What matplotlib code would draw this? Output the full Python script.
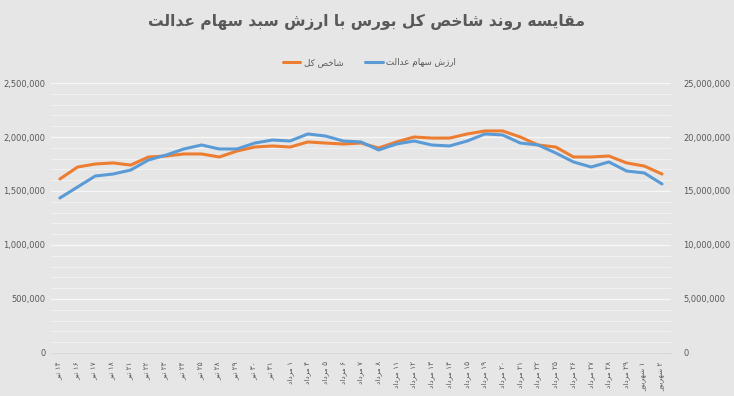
import re
import matplotlib.pyplot as plt
from matplotlib.ticker import FuncFormatter, MultipleLocator

# --- data ---
days = ['۱۴', '۱۶', '۱۷', '۱۸', '۲۱', '۲۲', '۲۳', '۲۴', '۲۵', '۲۸', '۲۹', '۳۰', '۳۱',
        '۱', '۴', '۵', '۶', '۷', '۸', '۱۱', '۱۲', '۱۳', '۱۴', '۱۵', '۱۹', '۲۰', '۲۱',
        '۲۲', '۲۵', '۲۶', '۲۷', '۲۸', '۲۹',
        '۱', '۲']
months = ['تیر'] * 13 + ['مرداد'] * 20 + ['شهریور'] * 2

shakhes = [1611000, 1722000, 1750000, 1760000, 1740000, 1815000, 1824000, 1843000,
           1843000, 1815000, 1870000, 1907000, 1917000, 1907000, 1954000, 1944000,
           1935000, 1944000, 1898000, 1954000, 2000000, 1990000, 1990000, 2028000,
           2056000, 2056000, 2000000, 1926000, 1907000, 1815000, 1815000, 1824000,
           1760000, 1731000, 1657000]

edalat = [14350000, 15370000, 16390000, 16570000, 16940000, 17870000, 18330000, 18890000,
          19260000, 18890000, 18890000, 19440000, 19720000, 19630000, 20280000, 20090000,
          19630000, 19540000, 18800000, 19350000, 19630000, 19260000, 19170000, 19630000,
          20280000, 20190000, 19440000, 19260000, 18520000, 17690000, 17220000, 17690000,
          16850000, 16670000, 15650000]

title = 'مقایسه روند شاخص کل بورس با ارزش سبد سهام عدالت'
name_shakhes = 'شاخص کل'
name_edalat = 'ارزش سهام عدالت'

# --- small arabic/persian shaper (matplotlib has no RTL shaping) ---
FORMS = {  # isolated, final, initial, medial
    'ا': ('\uFE8D', '\uFE8E', None, None),
    'ب': ('\uFE8F', '\uFE90', '\uFE91', '\uFE92'),
    'ت': ('\uFE95', '\uFE96', '\uFE97', '\uFE98'),
    'خ': ('\uFEA5', '\uFEA6', '\uFEA7', '\uFEA8'),
    'د': ('\uFEA9', '\uFEAA', None, None),
    'ر': ('\uFEAD', '\uFEAE', None, None),
    'ز': ('\uFEAF', '\uFEB0', None, None),
    'س': ('\uFEB1', '\uFEB2', '\uFEB3', '\uFEB4'),
    'ش': ('\uFEB5', '\uFEB6', '\uFEB7', '\uFEB8'),
    'ص': ('\uFEB9', '\uFEBA', '\uFEBB', '\uFEBC'),
    'ع': ('\uFEC9', '\uFECA', '\uFECB', '\uFECC'),
    'ق': ('\uFED5', '\uFED6', '\uFED7', '\uFED8'),
    'ل': ('\uFEDD', '\uFEDE', '\uFEDF', '\uFEE0'),
    'م': ('\uFEE1', '\uFEE2', '\uFEE3', '\uFEE4'),
    'ن': ('\uFEE5', '\uFEE6', '\uFEE7', '\uFEE8'),
    'ه': ('\uFEE9', '\uFEEA', '\uFEEB', '\uFEEC'),
    'و': ('\uFEED', '\uFEEE', None, None),
    'ک': ('\uFB8E', '\uFB8F', '\uFB90', '\uFB91'),
    'ی': ('\uFBFC', '\uFBFD', '\uFBFE', '\uFBFF'),
}


def shape(s):
    out = []
    for i, ch in enumerate(s):
        if ch not in FORMS:
            out.append(ch)
            continue
        prev = s[i - 1] if i > 0 else ''
        nxt = s[i + 1] if i + 1 < len(s) else ''
        jp = prev in FORMS and FORMS[prev][2] is not None
        jn = FORMS[ch][2] is not None and nxt in FORMS
        f = FORMS[ch]
        if jp and jn:
            out.append(f[3])
        elif jp:
            out.append(f[1])
        elif jn:
            out.append(f[2])
        else:
            out.append(f[0])
    return ''.join(out)


def rtl(s):
    v = shape(s)[::-1]
    return re.sub('[۰-۹0-9]+', lambda m: m.group(0)[::-1], v)


labels = [rtl(d + ' ' + m) for d, m in zip(days, months)]
x = list(range(len(days)))

bg = '#e7e6e6'
txt = '#595959'
plt.rcParams['font.family'] = ['DejaVu Sans']

fig = plt.figure(figsize=(7.34, 3.96), dpi=100, facecolor=bg)
ax = fig.add_axes([0.0695, 0.1086, 0.8445, 0.6818], facecolor=bg)
ax2 = ax.twinx()

l1, = ax.plot(x, shakhes, color='#ed7d31', lw=2.2, solid_capstyle='round')
l2, = ax2.plot(x, edalat, color='#5b9bd5', lw=2.2, solid_capstyle='round')

ax.set_xlim(-0.5, len(x) - 0.5)
ax.set_ylim(0, 2500000)
ax2.set_ylim(0, 25000000)
ax.yaxis.set_major_locator(MultipleLocator(500000))
ax.yaxis.set_minor_locator(MultipleLocator(100000))
ax2.yaxis.set_major_locator(MultipleLocator(5000000))
ax.yaxis.set_major_formatter(FuncFormatter(lambda v, p: f'{int(v):,}'))
ax2.yaxis.set_major_formatter(FuncFormatter(lambda v, p: f'{int(v):,}'))
ax.grid(True, axis='y', which='major', color='#f7f7f7', lw=0.9)
ax.grid(True, axis='y', which='minor', color='#f2f2f2', lw=0.7)
ax.set_axisbelow(True)

for a in (ax, ax2):
    for sp in a.spines.values():
        sp.set_visible(False)
    a.tick_params(axis='both', which='both', length=0, colors=txt, labelsize=6)
ax.tick_params(axis='y', pad=4)
ax2.tick_params(axis='y', pad=9)
ax.spines['bottom'].set_visible(True)
ax.spines['bottom'].set_color('#d9d9d9')

ax.set_xticks(x)
ax.set_xticklabels(labels, rotation=90, fontsize=5.3, color=txt, ha='center', va='top')
ax.tick_params(axis='x', pad=6)

fig.text(0.5, 0.944, rtl(title), ha='center', va='center', fontsize=11.2,
         fontweight='bold', color=txt)
fig.legend([l1, l2], [rtl(name_shakhes), rtl(name_edalat)], loc='center',
           bbox_to_anchor=(0.503, 0.843), ncol=2, frameon=False, fontsize=6.3,
           labelcolor=txt, handlelength=2.0, columnspacing=2.5, handletextpad=0.4)

fig.savefig('out.png', dpi=100, facecolor=bg)
